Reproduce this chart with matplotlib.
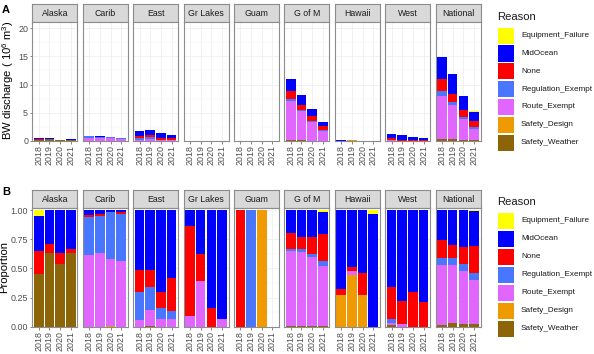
import matplotlib
matplotlib.use('Agg')
import matplotlib.pyplot as plt
from matplotlib.patches import Rectangle
import numpy as np

plt.rcParams['font.family'] = 'Liberation Sans'
plt.rcParams['mathtext.fontset'] = 'custom'
plt.rcParams['mathtext.rm'] = 'Liberation Sans'

regions = ['Alaska', 'Carib', 'East', 'Gr Lakes', 'Guam', 'G of M', 'Hawaii', 'West', 'National']
years = ['2018', '2019', '2020', '2021']
reasons = ['Equipment_Failure', 'MidOcean', 'None', 'Regulation_Exempt',
           'Route_Exempt', 'Safety_Design', 'Safety_Weather']
colors = ['#FFFF00', '#0000FF', '#FF0000', '#4876FF', '#E066FF', '#EE9A00', '#8B6508']

# total discharge per region and year (10^6 m^3)
totals = [[0.45, 0.4, 0.2, 0.25],
          [0.85, 0.75, 0.72, 0.45],
          [1.8, 1.9, 1.35, 1.05],
          [0.02, 0.02, 0.01, 0.01],
          [0.005, 0.005, 0.005, 0.0],
          [11.0, 8.2, 5.65, 3.3],
          [0.1, 0.1, 0.03, 0.02],
          [1.25, 0.95, 0.65, 0.5],
          [14.9, 11.8, 7.9, 5.2]]

# proportion of each reason, per region (rows) and year (columns)
equipment_failure = [[.05, 0, 0, 0], [0, 0, 0, 0], [0, 0, 0, 0], [0, 0, 0, 0], [0, 0, 0, 0],
                     [0, 0, 0, .015], [0, 0, 0, .035], [0, 0, 0, 0], [0, 0, 0, .009]]
mid_ocean = [[.305, .294, .365, .331], [.043, .035, .013, .015], [.51, .51, .702, .58],
             [.14, .38, .84, .93], [0, 0, 0, 0], [.194, .23, .23, .187],
             [.677, .484, .543, .965], [.656, .778, .70, .787], [.259, .296, .318, .30]]
none = [[.195, .072, .095, .035], [.015, .017, .005, .015], [.19, .15, .14, .285],
        [.77, .23, .16, 0], [1, 0, 0, 0], [.138, .107, .144, .236],
        [.049, .035, .187, 0], [.28, .196, .30, .213], [.153, .115, .144, .23]]
regulation_exempt = [[0, 0, 0, 0], [.325, .32, .40, .41], [.24, .195, .095, .07],
                     [0, 0, 0, 0], [0, 1, 0, 0], [.02, .023, .029, .043],
                     [0, 0, 0, 0], [.03, 0, 0, 0], [.055, .058, .06, .058]]
route_exempt = [[0, 0, 0, 0], [.617, .628, .572, .56], [.06, .14, .063, .065],
                [.09, .39, 0, .07], [0, 0, 0, 0], [.643, .635, .592, .514],
                [0, .037, 0, 0], [.017, .026, 0, 0], [.516, .499, .458, .378]]
safety_design = [[0, 0, 0, 0], [0, 0, .01, 0], [0, 0, 0, 0], [0, 0, 0, 0], [0, 0, 1, 0],
                 [0, 0, 0, 0], [.274, .444, .27, 0], [0, 0, 0, 0], [0, 0, 0, 0]]
safety_weather = [[.45, .634, .54, .634], [0, 0, 0, 0], [0, .005, 0, 0], [0, 0, 0, 0],
                  [0, 0, 0, 0], [.005, .005, .005, .005], [0, 0, 0, 0],
                  [.017, 0, 0, 0], [.017, .032, .02, .025]]

props = [equipment_failure, mid_ocean, none, regulation_exempt,
         route_exempt, safety_design, safety_weather]

W, H = 594, 354
fig = plt.figure(figsize=(W / 100, H / 100), dpi=100)
BORDER = '#8C8C8C'; GRID = '#EBEBEB'; TICK = '#4D4D4D'


def ax_px(x0, y0, x1, y1, **kw):
    return fig.add_axes([x0 / W, 1 - y1 / H, (x1 - x0) / W, (y1 - y0) / H], **kw)


def facet_row(top, strip_h, bottom, proportional):
    for i, reg in enumerate(regions):
        left = 32.3 + 50.4 * i
        st = ax_px(left, top, left + 45, top + strip_h)
        st.set_facecolor('#D9D9D9')
        st.set_xticks([]); st.set_yticks([])
        for s in st.spines.values():
            s.set_color(BORDER); s.set_linewidth(0.8)
        st.text(0.5, 0.5, reg, ha='center', va='center', fontsize=6.3,
                color='#1A1A1A', transform=st.transAxes)

        ax = ax_px(left, top + strip_h, left + 45, bottom)
        x = np.arange(len(years))
        base = np.zeros(len(years))
        tot = np.array(totals[i])
        for k in range(len(reasons) - 1, -1, -1):
            p = np.array(props[k][i], dtype=float)
            h = p if proportional else p * tot
            ax.bar(x, h, 0.9, bottom=base, color=colors[k], lw=0, zorder=2)
            base = base + h
        ax.set_xlim(-0.6, 3.6)
        if proportional:
            ax.set_ylim(0, 1.015)
            ax.set_yticks([0, .25, .5, .75, 1])
            ax.set_yticks([.125, .375, .625, .875], minor=True)
        else:
            ax.set_ylim(0, 21.07)
            ax.set_yticks([0, 5, 10, 15, 20])
            ax.set_yticks([2.5, 7.5, 12.5, 17.5], minor=True)
        ax.set_xticks(x, years, rotation=90)
        ax.grid(True, which='major', color=GRID, lw=0.5, zorder=0)
        ax.grid(True, which='minor', axis='y', color='#F4F4F4', lw=0.3, zorder=0)
        ax.tick_params(axis='both', which='major', length=1.8, width=0.5,
                       color='#555555', labelsize=6.4, labelcolor=TICK, pad=1.2)
        ax.tick_params(which='minor', length=0)
        if i == 0:
            if proportional:
                ax.set_yticklabels(['0.00', '0.25', '0.50', '0.75', '1.00'])
        else:
            ax.set_yticklabels([])
            ax.tick_params(axis='y', length=0)
        for s in ax.spines.values():
            s.set_color(BORDER); s.set_linewidth(0.8); s.set_zorder(5)


def legend(title_y, key_top, pitch):
    fig.text(497 / W, 1 - title_y / H, 'Reason', fontsize=8.1, color='#1A1A1A',
             ha='left', va='center')
    for k, r in enumerate(reasons):
        y0 = key_top + pitch * k
        fig.add_artist(Rectangle((498 / W, 1 - (y0 + 16) / H), 16 / W, 16 / H,
                                 transform=fig.transFigure, color=colors[k], lw=0))
        fig.text(521 / W, 1 - (y0 + 8) / H, r, fontsize=5.9, color='#1A1A1A',
                 ha='left', va='center')


facet_row(4.3, 18, 140.7, False)
facet_row(190, 18.3, 326.7, True)
legend(16.7, 27.7, 17.8)
legend(202, 212.7, 18)

fig.text(8 / W, 1 - 80 / H, 'BW discharge ( 10$^6$ m$^3$)', rotation=90,
         ha='center', va='center', fontsize=8.1)
fig.text(4.5 / W, 1 - 267 / H, 'Proportion', rotation=90,
         ha='center', va='center', fontsize=8.1)
fig.text(2 / W, 1 - 10 / H, 'A', fontsize=8, fontweight='bold', va='center')
fig.text(2 / W, 1 - 192 / H, 'B', fontsize=8, fontweight='bold', va='center')

fig.savefig('out.png', dpi=100, facecolor='white')
